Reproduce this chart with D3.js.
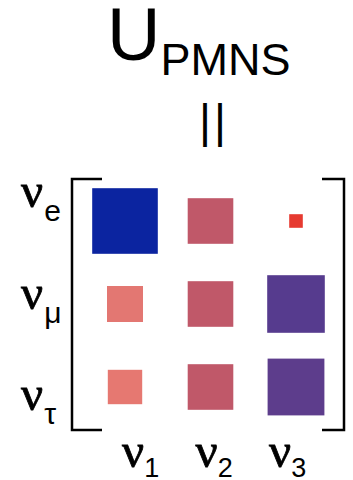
<!DOCTYPE html>
<html>
<head>
<meta charset="utf-8">
<script src="https://cdn.jsdelivr.net/npm/d3@7"></script>
<style>
  body { margin: 0; background: #fff; }
  svg { display: block; }
</style>
</head>
<body>
<svg></svg>
<script>
var screen = {width: 353, height: 480};

// flavour rows / mass columns
var flavours = ["e", "μ", "τ"];
var masses = ["1", "2", "3"];

// |U|
var eRow = [0.82, 0.57, 0.17];
var muRow = [0.45, 0.57, 0.72];
var tauRow = [0.43, 0.57, 0.71];

var matrix = [eRow, muRow, tauRow];

var cells = [];
matrix.forEach(function(row, i) {
    row.forEach(function(v, j) {
        cells.push({flavour: flavours[i], mass: masses[j], value: v});
    });
});

var svg = d3.select("svg")
    .attr("width", screen.width)
    .attr("height", screen.height);

var xScale = d3.scalePoint()
    .domain(masses)
    .range([125, 296]);

var yScale = d3.scalePoint()
    .domain(flavours)
    .range([221, 387]);

// label positions are spaced a little differently from the cells
var xLabel = d3.scalePoint()
    .domain(masses)
    .range([122, 269]);

var yLabel = d3.scalePoint()
    .domain(flavours)
    .range([207, 410]);

var sizeScale = d3.scaleLinear()
    .domain([0, 1])
    .range([0, 80]);

var cScale = d3.scaleLinear()
    .domain([0.17, 0.44, 0.57, 0.71, 0.82])
    .range(["#e63a30", "#e67a73", "#c05869", "#5d3d8c", "#0b24a0"]);

var sans = "'Liberation Sans', Arial, sans-serif";
var serif = "'Liberation Serif', 'Times New Roman', serif";

// title
var title = svg.append("text")
    .attr("x", 107)
    .attr("y", 60)
    .style("font-family", sans)
    .style("font-size", "74px")
    .text("U");

title.append("tspan")
    .attr("dy", 15)
    .style("font-size", "45px")
    .text("PMNS");

svg.append("text")
    .attr("x", 199)
    .attr("y", 137)
    .style("font-family", sans)
    .style("font-size", "46px")
    .style("letter-spacing", "3px")
    .text("||");

// squares
svg.append("g")
    .attr("id", "cells")
    .selectAll("rect")
    .data(cells)
    .enter()
    .append("rect")
    .attr("x", function(d) { return xScale(d.mass) - sizeScale(d.value) / 2; })
    .attr("y", function(d) { return yScale(d.flavour) - sizeScale(d.value) / 2; })
    .attr("width", function(d) { return sizeScale(d.value); })
    .attr("height", function(d) { return sizeScale(d.value); })
    .attr("fill", function(d) { return cScale(d.value); });

// brackets
var bTop = 179, bBottom = 430;
var bLeft = xScale("1") - 53;
var bRight = xScale("3") + 48;

svg.append("path")
    .attr("d", "M" + (bLeft + 30) + "," + bTop + "H" + bLeft + "V" + bBottom + "H" + (bLeft + 30))
    .attr("fill", "none")
    .attr("stroke", "#000")
    .attr("stroke-width", 2.5);

svg.append("path")
    .attr("d", "M" + (bRight - 22) + "," + bTop + "H" + bRight + "V" + bBottom + "H" + (bRight - 22))
    .attr("fill", "none")
    .attr("stroke", "#000")
    .attr("stroke-width", 2.5);

// row labels
var rowLabels = svg.append("g")
    .attr("id", "rowLabels")
    .selectAll("text")
    .data(flavours)
    .enter()
    .append("text")
    .attr("x", 21)
    .attr("y", function(d) { return yLabel(d); })
    .style("font-family", serif)
    .style("font-size", "49px")
    .style("stroke", "#000")
    .style("stroke-width", 0.8)
    .text("ν");

rowLabels.append("tspan")
    .attr("dy", 14)
    .attr("dx", 1)
    .style("font-family", sans)
    .style("font-size", "30px")
    .style("stroke", "none")
    .text(function(d) { return d; });

// column labels
var colLabels = svg.append("g")
    .attr("id", "colLabels")
    .selectAll("text")
    .data(masses)
    .enter()
    .append("text")
    .attr("x", function(d) { return xLabel(d); })
    .attr("y", 467)
    .style("font-family", serif)
    .style("font-size", "49px")
    .style("stroke", "#000")
    .style("stroke-width", 0.8)
    .text("ν");

colLabels.append("tspan")
    .attr("dy", 10)
    .style("font-family", sans)
    .style("font-size", "27px")
    .style("stroke", "none")
    .text(function(d) { return d; });
</script>
</body>
</html>
